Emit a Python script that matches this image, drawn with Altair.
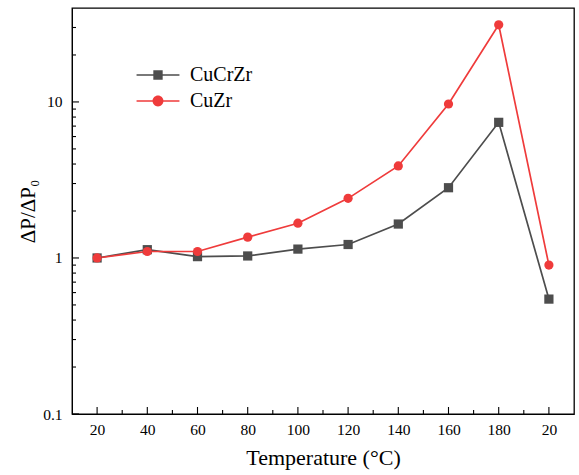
import altair as alt
import pandas as pd

# ---- data ----
x_labels = ["20", "40", "60", "80", "100", "120", "140", "160", "180", "20"]
x_index = [1, 2, 3, 4, 5, 6, 7, 8, 9, 10]
cucrzr = [1.0, 1.13, 1.02, 1.03, 1.14, 1.22, 1.65, 2.82, 7.4, 0.545]
cuzr = [1.0, 1.10, 1.10, 1.36, 1.67, 2.41, 3.89, 9.7, 31.2, 0.90]
series_names = ["CuCrZr", "CuZr"]
series_colors = ["#4d4d4d", "#ef3b3b"]

y_major = [0.1, 1, 10]
y_minor = [0.2, 0.3, 0.4, 0.5, 0.6, 0.7, 0.8, 0.9, 2, 3, 4, 5, 6, 7, 8, 9, 20, 30]
x_major = x_index
x_minor = [1.5, 2.5, 3.5, 4.5, 5.5, 6.5, 7.5, 8.5, 9.5]

W, H = 502, 406
FONT = "Liberation Serif"
X_TITLE = "Temperature (°C)"
Y_TITLE = "ΔP/ΔP₀"

df = pd.DataFrame({
    "i": x_index * 2,
    "v": cucrzr + cuzr,
    "s": [series_names[0]] * len(cucrzr) + [series_names[1]] * len(cuzr),
})

label_arr = "[" + ",".join("'%s'" % l for l in x_labels) + "]"
xscale = alt.Scale(domain=[0.5, 10.5], nice=False, zero=False)
yscale = alt.Scale(type="log", domain=[0.1, 40], nice=False)
cscale = alt.Scale(domain=series_names, range=series_colors)

x_axis = alt.Axis(values=x_index, labelExpr=label_arr + "[datum.value-1]",
                  ticks=False, grid=False, labelPadding=8, labelFont=FONT,
                  labelFontSize=15.5, labelColor="black", titleFont=FONT,
                  titleFontSize=22, titleFontWeight="normal", titleColor="black",
                  titlePadding=10, domainColor="black", labelFlush=False)
y_axis = alt.Axis(values=y_major, format="~g", ticks=False, grid=False,
                  labelPadding=10, labelFont=FONT, labelFontSize=15.5,
                  labelColor="black", titleFont=FONT, titleFontSize=21,
                  titleFontWeight="normal", titleColor="black", titlePadding=4,
                  domainColor="black", labelFlush=False)

base = alt.Chart(df)
lines = base.mark_line(strokeWidth=1.7).encode(
    x=alt.X("i:Q", scale=xscale, axis=x_axis, title=X_TITLE),
    y=alt.Y("v:Q", scale=yscale, axis=y_axis, title=Y_TITLE),
    color=alt.Color("s:N", scale=cscale, legend=None),
)
points = base.mark_point(filled=True, opacity=1, size=85).encode(
    x="i:Q", y="v:Q",
    color=alt.Color("s:N", scale=cscale, legend=None),
    shape=alt.Shape("s:N", scale=alt.Scale(domain=series_names, range=["square", "circle"]), legend=None),
)

sq_path = "M-2.2,-0.08H2.2V0.08H-2.2Z M-0.48,-0.48H0.48V0.48H-0.48Z"
ci_path = "M-2.2,-0.08H2.2V0.08H-2.2Z M0.56,0A0.56,0.56 0 1,1 -0.56,0A0.56,0.56 0 1,1 0.56,0Z"
leg = dict(orient="none", legendX=76, legendY=57, title=None, symbolSize=380,
           symbolStrokeWidth=0, labelFont=FONT, labelFontSize=20, labelColor="black",
           labelOffset=22, padding=0, rowPadding=6)
legend_layer = base.mark_point(filled=True, opacity=1).encode(
    x="i:Q", y="v:Q",
    color=alt.Color("s:N", scale=cscale, legend=alt.Legend(**leg)),
    shape=alt.Shape("s:N", scale=alt.Scale(domain=series_names, range=[sq_path, ci_path]),
                    legend=alt.Legend(**leg)),
).transform_filter("false")

# inward tick marks, positioned through the shared scales
TICK = dict(color="black", strokeWidth=1.1)
xt_major = alt.Chart(pd.DataFrame({"xt": x_major})).mark_rule(**TICK).encode(
    x=alt.X("xt:Q"), y=alt.value(H), y2=alt.value(H - 7))
xt_minor = alt.Chart(pd.DataFrame({"xt": x_minor})).mark_rule(**TICK).encode(
    x=alt.X("xt:Q"), y=alt.value(H), y2=alt.value(H - 4))
yt_major = alt.Chart(pd.DataFrame({"yt": y_major})).mark_rule(**TICK).encode(
    y=alt.Y("yt:Q"), x=alt.value(0), x2=alt.value(7))
yt_minor = alt.Chart(pd.DataFrame({"yt": y_minor})).mark_rule(**TICK).encode(
    y=alt.Y("yt:Q"), x=alt.value(0), x2=alt.value(4))

chart = alt.layer(lines, points, legend_layer, xt_major, xt_minor, yt_major, yt_minor).resolve_scale(
    shape="independent", color="independent"
).properties(
    width=W, height=H,
    autosize=alt.AutoSizeParams(type="none"),
    padding={"left": 72, "top": 8, "right": 5, "bottom": 61},
    background="white",
).configure_view(stroke="black", strokeWidth=1.3)

chart.save("out.html", embed_options={"renderer": "svg", "actions": False})
